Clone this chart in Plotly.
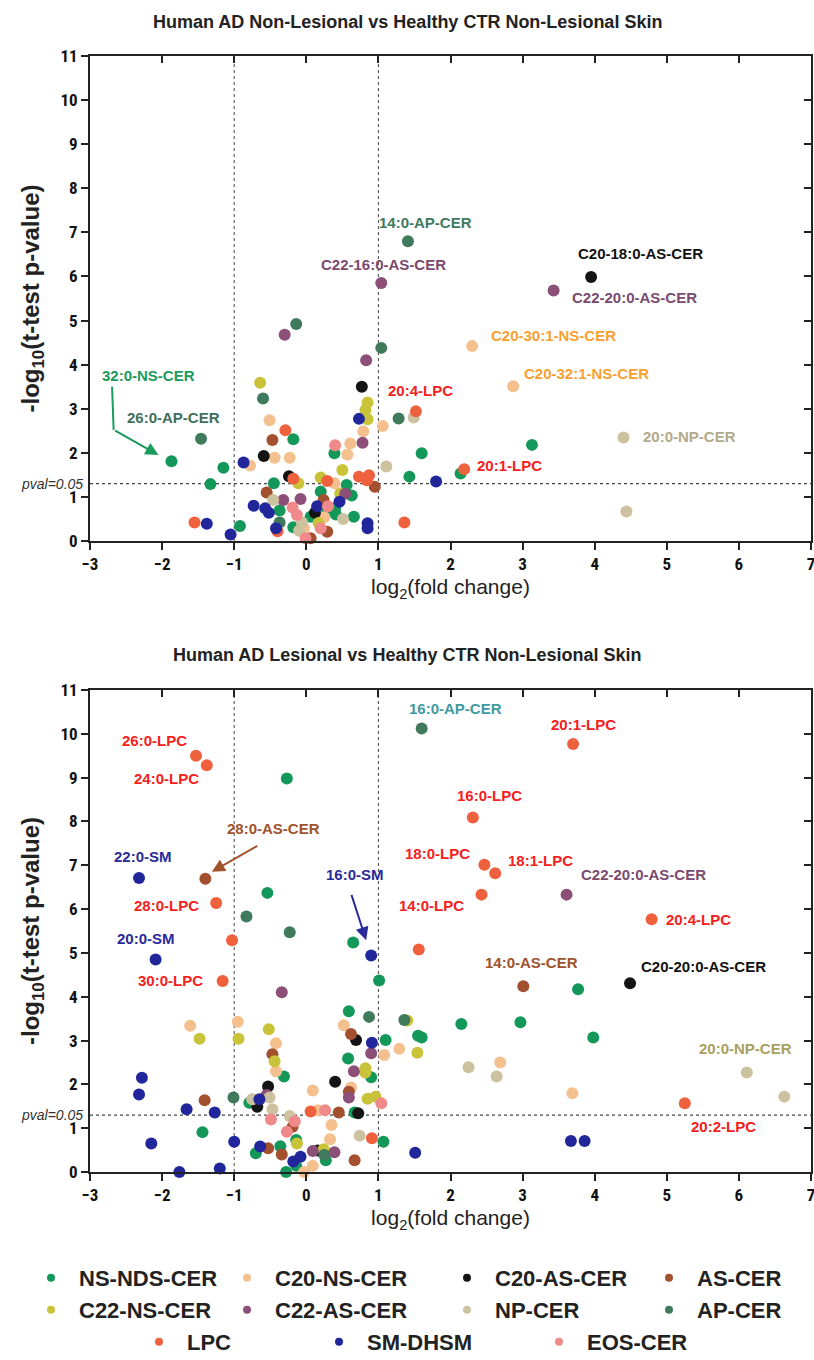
import plotly.graph_objects as go

# ---------------- categories ----------------
GROUPS = ["NS-NDS-CER", "C20-NS-CER", "C20-AS-CER", "AS-CER",
          "C22-NS-CER", "C22-AS-CER", "NP-CER", "AP-CER",
          "LPC", "SM-DHSM", "EOS-CER"]
COLORS = ["#14985a", "#f4c08e", "#141414", "#a3502f",
          "#c9c33a", "#8c4f78", "#cdc29f", "#3f7a5c",
          "#ef603d", "#21279a", "#f08a8a"]

# ---------------- top panel: AD non-lesional vs CTR ----------------
NL_NS_X = [-1.87, -1.33, -1.15, -0.92, -0.45, -0.37, -0.18, -0.18, 0.06, 0.20, 0.29, 0.39, 0.40, 0.41, 0.56, 0.63, 0.66, 1.43, 1.60, 2.14, 3.13]
NL_NS_Y = [1.81, 1.29, 1.66, 0.34, 1.31, 0.69, 2.31, 0.31, 0.55, 1.12, 0.66, 1.99, 0.75, 0.60, 1.27, 1.03, 0.55, 1.46, 1.99, 1.53, 2.18]
NL_C20NS_X = [-0.78, -0.51, -0.44, -0.23, 0.25, -0.03, 0.39, 0.57, 0.61, 0.79, 1.06, 2.30, 2.87]
NL_C20NS_Y = [1.71, 2.74, 1.89, 1.89, 0.54, 0.29, 1.31, 1.96, 2.21, 2.49, 2.61, 4.42, 3.51]
NL_C20AS_X = [-0.59, -0.24, 0.12, 0.77, 3.95]
NL_C20AS_Y = [1.93, 1.47, 0.64, 3.50, 5.99]
NL_AS_X = [-0.55, -0.47, 0.06, 0.24, 0.29, 0.95]
NL_AS_Y = [1.10, 2.29, 0.06, 0.93, 0.21, 1.23]
NL_C22NS_X = [-0.64, -0.11, 0.17, 0.20, 0.47, 0.50, 0.82, 0.85, 0.85]
NL_C22NS_Y = [3.59, 1.31, 0.41, 1.44, 1.08, 1.61, 2.97, 3.14, 2.76]
NL_C22AS_X = [-0.32, -0.30, -0.08, 0.54, 0.78, 0.83, 1.04, 3.43]
NL_C22AS_Y = [0.93, 4.68, 0.95, 1.07, 2.23, 4.10, 5.85, 5.68]
NL_NP_X = [-0.46, -0.10, -0.06, 0.51, 1.11, 1.49, 4.40, 4.44]
NL_NP_Y = [0.93, 0.23, 0.42, 0.50, 1.69, 2.80, 2.35, 0.67]
NL_AP_X = [-1.46, -0.60, -0.37, -0.14, 1.04, 1.28, 1.41]
NL_AP_Y = [2.32, 3.23, 0.42, 4.92, 4.38, 2.78, 6.80]
NL_LPC_X = [-1.55, -0.40, -0.29, -0.18, 0.29, 0.73, 0.84, 0.87, 1.36, 1.52, 2.19]
NL_LPC_Y = [0.42, 0.22, 2.51, 1.41, 1.36, 1.46, 1.38, 1.49, 0.42, 2.94, 1.63]
NL_SM_X = [-1.38, -1.05, -0.87, -0.73, -0.57, -0.52, -0.42, 0.15, 0.46, 0.73, 0.85, 0.85, 1.80]
NL_SM_Y = [0.39, 0.15, 1.78, 0.80, 0.74, 0.64, 0.29, 0.79, 0.89, 2.77, 0.40, 0.29, 1.35]
NL_EOS_X = [-0.19, -0.13, -0.01, 0.20, 0.30, 0.40]
NL_EOS_Y = [0.76, 0.59, 0.06, 0.29, 0.79, 2.17]

# ---------------- bottom panel: AD lesional vs CTR ----------------
L_NS_X = [-1.44, -0.79, -0.70, -0.54, -0.36, -0.31, -0.28, -0.27, -0.14, -0.14, 0.27, 0.58, 0.59, 0.65, 0.67, 0.90, 1.01, 1.07, 1.10, 1.55, 1.60, 2.15, 2.97, 3.77, 3.98]
L_NS_Y = [0.91, 1.58, 0.43, 6.37, 0.59, 2.18, 0.00, 8.98, 0.73, 0.14, 0.27, 2.59, 3.67, 5.24, 1.36, 2.16, 4.37, 0.69, 3.01, 3.11, 3.07, 3.38, 3.42, 4.17, 3.07]
L_C20NS_X = [-1.61, -0.95, -0.42, -0.42, -0.03, 0.09, 0.09, 0.16, 0.33, 0.35, 0.52, 0.62, 1.08, 1.29, 2.69, 3.69]
L_C20NS_Y = [3.34, 3.43, 2.94, 2.30, 0.00, 0.14, 1.86, 1.41, 0.75, 1.07, 3.35, 1.93, 2.67, 2.81, 2.50, 1.80]
L_C20AS_X = [-0.68, -0.53, 0.16, 0.40, 0.69, 0.72, 4.49]
L_C20AS_Y = [1.49, 1.95, 0.49, 2.06, 3.01, 1.34, 4.31]
L_AS_X = [-1.40, -1.41, -0.53, -0.47, -0.34, -0.19, 0.45, 0.59, 0.62, 0.67, 3.01]
L_AS_Y = [6.69, 1.64, 0.54, 2.69, 0.40, 1.03, 1.36, 1.83, 3.15, 0.27, 4.24]
L_C22NS_X = [-1.48, -0.94, -0.52, -0.44, -0.13, 0.24, 0.82, 0.82, 0.85, 0.96, 1.40, 1.54]
L_C22NS_Y = [3.04, 3.04, 3.26, 2.53, 0.65, 0.52, 2.37, 2.27, 1.67, 1.72, 3.46, 2.72]
L_C22AS_X = [-0.55, -0.34, 0.09, 0.39, 0.59, 0.66, 0.90, 3.61]
L_C22AS_Y = [1.76, 4.10, 0.48, 0.45, 1.70, 2.30, 2.71, 6.33]
L_NP_X = [-0.75, -0.51, -0.47, -0.23, 0.74, 2.25, 2.64, 6.11, 6.63]
L_NP_Y = [1.66, 1.70, 1.43, 1.28, 0.83, 2.39, 2.18, 2.27, 1.72]
L_AP_X = [-1.01, -0.83, -0.23, 0.25, 0.87, 1.36, 1.60]
L_AP_Y = [1.70, 5.83, 5.47, 0.39, 3.54, 3.47, 10.12]
L_LPC_X = [-1.53, -1.38, -1.25, -1.03, -1.16, 0.06, 0.91, 1.56, 2.31, 2.43, 2.47, 2.62, 3.70, 4.79, 5.25]
L_LPC_Y = [9.50, 9.28, 6.14, 5.29, 4.36, 1.38, 0.77, 5.08, 8.09, 6.33, 7.01, 6.82, 9.77, 5.77, 1.57]
L_SM_X = [-2.32, -2.09, -2.28, -2.32, -2.15, -1.76, -1.66, -1.27, -1.20, -1.00, -0.65, -0.64, -0.18, -0.08, 0.90, 0.91, 1.51, 3.67, 3.86]
L_SM_Y = [6.71, 4.85, 2.15, 1.77, 0.65, 0.00, 1.43, 1.36, 0.08, 0.69, 1.66, 0.58, 0.24, 0.35, 4.94, 2.95, 0.44, 0.71, 0.71]
L_EOS_X = [-0.49, -0.27, -0.16, 0.26, 1.04]
L_EOS_Y = [1.20, 0.92, 1.16, 1.41, 1.57]

NL_X = [NL_NS_X, NL_C20NS_X, NL_C20AS_X, NL_AS_X, NL_C22NS_X, NL_C22AS_X, NL_NP_X, NL_AP_X, NL_LPC_X, NL_SM_X, NL_EOS_X]
NL_Y = [NL_NS_Y, NL_C20NS_Y, NL_C20AS_Y, NL_AS_Y, NL_C22NS_Y, NL_C22AS_Y, NL_NP_Y, NL_AP_Y, NL_LPC_Y, NL_SM_Y, NL_EOS_Y]
L_X = [L_NS_X, L_C20NS_X, L_C20AS_X, L_AS_X, L_C22NS_X, L_C22AS_X, L_NP_X, L_AP_X, L_LPC_X, L_SM_X, L_EOS_X]
L_Y = [L_NS_Y, L_C20NS_Y, L_C20AS_Y, L_AS_Y, L_C22NS_Y, L_C22AS_Y, L_NP_Y, L_AP_Y, L_LPC_Y, L_SM_Y, L_EOS_Y]

# labels: (text, x, y, color)
NL_LABELS = [
    ("32:0-NS-CER", -2.19, 3.76, "#1a9a5c"),
    ("26:0-AP-CER", -1.84, 2.79, "#3f6f5a"),
    ("14:0-AP-CER", 1.65, 7.23, "#3f7a5f"),
    ("C22-16:0-AS-CER", 1.07, 6.26, "#7b4a6f"),
    ("C20-18:0-AS-CER", 4.63, 6.53, "#111111"),
    ("C22-20:0-AS-CER", 4.55, 5.53, "#7b4a6f"),
    ("C20-30:1-NS-CER", 3.43, 4.65, "#f7a030"),
    ("C20-32:1-NS-CER", 3.88, 3.79, "#f7a030"),
    ("20:4-LPC", 1.58, 3.42, "#f52020"),
    ("20:0-NP-CER", 5.31, 2.38, "#b3a98a"),
    ("20:1-LPC", 2.82, 1.72, "#f52020"),
]
L_LABELS = [
    ("16:0-AP-CER", 2.07, 10.57, "#3f9aa0"),
    ("20:1-LPC", 3.84, 10.22, "#f52020"),
    ("26:0-LPC", -2.11, 9.84, "#f52020"),
    ("24:0-LPC", -1.94, 8.97, "#f52020"),
    ("16:0-LPC", 2.54, 8.60, "#f52020"),
    ("28:0-AS-CER", -0.46, 7.83, "#a0522d"),
    ("22:0-SM", -2.27, 7.19, "#2a2a9a"),
    ("18:0-LPC", 1.82, 7.28, "#f52020"),
    ("18:1-LPC", 3.25, 7.12, "#f52020"),
    ("16:0-SM", 0.68, 6.78, "#2a2a9a"),
    ("C22-20:0-AS-CER", 4.67, 6.78, "#7b4a6f"),
    ("28:0-LPC", -1.94, 6.09, "#f52020"),
    ("14:0-LPC", 1.73, 6.09, "#f52020"),
    ("20:0-SM", -2.22, 5.34, "#2a2a9a"),
    ("20:4-LPC", 5.44, 5.77, "#f52020"),
    ("30:0-LPC", -1.89, 4.36, "#f52020"),
    ("14:0-AS-CER", 3.13, 4.79, "#a0522d"),
    ("C20-20:0-AS-CER", 5.51, 4.68, "#111111"),
    ("20:0-NP-CER", 6.09, 2.81, "#a8a060"),
    ("20:2-LPC", 5.78, 1.03, "#f52020"),
]

TITLE_NL = "Human AD Non-Lesional vs Healthy CTR Non-Lesional Skin"
TITLE_L = "Human AD Lesional vs Healthy CTR Non-Lesional Skin"
X_TICKS = [-3, -2, -1, 0, 1, 2, 3, 4, 5, 6, 7]
Y_TICKS = [0, 1, 2, 3, 4, 5, 6, 7, 8, 9, 10, 11]
PVAL = 1.3
FC_LINES = [-1, 1]

NARROW = "Liberation Sans Narrow, Arial Narrow, Roboto Condensed, DejaVu Sans Condensed, sans-serif"
SANS = "Liberation Sans, Arial, sans-serif"
AXC = "#222222"

W, H = 814, 1360
XDOM = [90 / W, 811 / W]
YDOM_TOP = [1 - 541 / H, 1 - 56 / H]
YDOM_BOT = [1 - 1172 / H, 1 - 690 / H]

# legend placement (marker centre px, row centre px)
LEG_POS = [(52, 1278), (248, 1278), (468, 1278), (670, 1278),
           (52, 1310), (248, 1310), (468, 1310), (670, 1310),
           (160, 1342), (340, 1342), (560, 1342)]

fig = go.Figure()

def add_points(xs, ys, xa, ya):
    for i, g in enumerate(GROUPS):
        fig.add_trace(go.Scatter(
            x=xs[i], y=ys[i], mode="markers", name=g, showlegend=False,
            xaxis=xa, yaxis=ya, cliponaxis=False,
            marker=dict(size=12, color=COLORS[i], line=dict(width=0)),
            hoverinfo="skip"))

add_points(NL_X, NL_Y, "x", "y")
add_points(L_X, L_Y, "x2", "y2")

# dummy traces to activate mirror axes
for xa, ya in [("x3", "y3"), ("x4", "y4")]:
    fig.add_trace(go.Scatter(x=[None], y=[None], xaxis=xa, yaxis=ya,
                             showlegend=False, hoverinfo="skip"))

legfont = dict(family=SANS, size=22, color="#222", weight="bold")
legends = {}
for i, g in enumerate(GROUPS):
    key = "legend" if i == 0 else "legend%d" % (i + 1)
    mx, my = LEG_POS[i]
    legends[key] = dict(orientation="h", x=(mx - 29) / W, y=1 - my / H,
                        xanchor="left", yanchor="middle", font=legfont,
                        itemwidth=46, bgcolor="rgba(0,0,0,0)", borderwidth=0)
    fig.add_trace(go.Scatter(x=[None], y=[None], mode="markers", name=g,
                             legend=key, xaxis="x2", yaxis="y2",
                             marker=dict(size=8, color=COLORS[i])))

tickfont = dict(family=NARROW, size=17, color="#111", weight="bold")

def main_x(anchor):
    return dict(domain=XDOM, anchor=anchor, range=[-3, 7], tickvals=X_TICKS,
                ticks="outside", ticklen=7, tickwidth=2, tickcolor=AXC,
                showline=True, linewidth=2, linecolor=AXC, showgrid=False,
                zeroline=False, tickfont=tickfont, ticklabeloverflow="allow",
                automargin=False,
                title=dict(text="log<sub>2</sub>(fold change)",
                           font=dict(family=SANS, size=21, color="#222"), standoff=6))

def main_y(dom, anchor):
    return dict(domain=dom, anchor=anchor, range=[0, 11], tickvals=Y_TICKS,
                ticks="outside", ticklen=7, tickwidth=2, tickcolor=AXC,
                showline=True, linewidth=2, linecolor=AXC, showgrid=False,
                zeroline=False, tickfont=tickfont, ticklabeloverflow="allow",
                automargin=False,
                title=dict(text="-log<sub>10</sub>(t-test p-value)",
                           font=dict(family=SANS, size=24, color="#222", weight="bold"),
                           standoff=14))

def mirror_x(over, anchor):
    return dict(overlaying=over, anchor=anchor, side="top", range=[-3, 7],
                tickvals=X_TICKS, ticks="inside", ticklen=7, tickwidth=2, tickcolor=AXC,
                showline=True, linewidth=2, linecolor=AXC, showgrid=False,
                zeroline=False, showticklabels=False, automargin=False)

def mirror_y(over, anchor):
    return dict(overlaying=over, anchor=anchor, side="right", range=[0, 11],
                tickvals=Y_TICKS, ticks="inside", ticklen=7, tickwidth=2, tickcolor=AXC,
                showline=True, linewidth=2, linecolor=AXC, showgrid=False,
                zeroline=False, showticklabels=False, automargin=False)

shapes = []
annotations = []
for xr, yr in [("x", "y"), ("x2", "y2")]:
    for v in FC_LINES:
        shapes.append(dict(type="line", xref=xr, yref=yr + " domain", x0=v, x1=v, y0=0, y1=1,
                           line=dict(color="#444", width=1, dash="dot"), layer="below"))
    shapes.append(dict(type="line", xref=xr + " domain", yref=yr, x0=0, x1=1, y0=PVAL, y1=PVAL,
                       line=dict(color="#444", width=1.2, dash="dot"), layer="below"))
    annotations.append(dict(text="<i>pval=0.05</i>", xref="paper", yref=yr, x=85 / W,
                            y=PVAL, xanchor="right", yanchor="middle", showarrow=False,
                            font=dict(family=SANS, size=14, color="#333")))

for xr, yr, labels in [("x", "y", NL_LABELS), ("x2", "y2", L_LABELS)]:
    for t, lx, ly, c in labels:
        annotations.append(dict(text=t, x=lx, y=ly, xref=xr, yref=yr, showarrow=False,
                                font=dict(family=SANS, size=15, color=c, weight="bold")))

# arrows
shapes.append(dict(type="line", xref="x", yref="y", x0=-2.694, y0=3.50, x1=-2.672, y1=2.52,
                   line=dict(color="#1a9a5c", width=2)))
annotations.append(dict(text="", x=-2.05, y=1.95, ax=-2.672, ay=2.52, xref="x", yref="y",
                        axref="x", ayref="y", showarrow=True, arrowhead=2, arrowsize=1.3,
                        arrowwidth=2, arrowcolor="#1a9a5c"))
annotations.append(dict(text="", x=-1.31, y=6.85, ax=-0.66, ay=7.46, xref="x2", yref="y2",
                        axref="x2", ayref="y2", showarrow=True, arrowhead=2, arrowsize=1.3,
                        arrowwidth=2, arrowcolor="#a0522d"))
annotations.append(dict(text="", x=0.83, y=5.29, ax=0.62, ay=6.36, xref="x2", yref="y2",
                        axref="x2", ayref="y2", showarrow=True, arrowhead=2, arrowsize=1.3,
                        arrowwidth=2, arrowcolor="#2a2a9a"))

# titles
for t, py in [(TITLE_NL, 22), (TITLE_L, 655)]:
    annotations.append(dict(text=t, xref="paper", yref="paper", x=0.5, y=1 - py / H,
                            xanchor="center", yanchor="middle", showarrow=False,
                            font=dict(family=SANS, size=18, color="#222", weight="bold")))

fig.update_layout(
    width=W, height=H, margin=dict(l=0, r=0, t=0, b=0, autoexpand=False),
    paper_bgcolor="white", plot_bgcolor="white",
    xaxis=main_x("y"), yaxis=main_y(YDOM_TOP, "x"),
    xaxis2=main_x("y2"), yaxis2=main_y(YDOM_BOT, "x2"),
    xaxis3=mirror_x("x", "y3"), yaxis3=mirror_y("y", "x3"),
    xaxis4=mirror_x("x2", "y4"), yaxis4=mirror_y("y2", "x4"),
    shapes=shapes, annotations=annotations,
    **legends,
)

fig.write_html("out.html", config={"displayModeBar": False},
               post_script="document.body.style.margin='0';document.body.style.overflow='hidden';")
